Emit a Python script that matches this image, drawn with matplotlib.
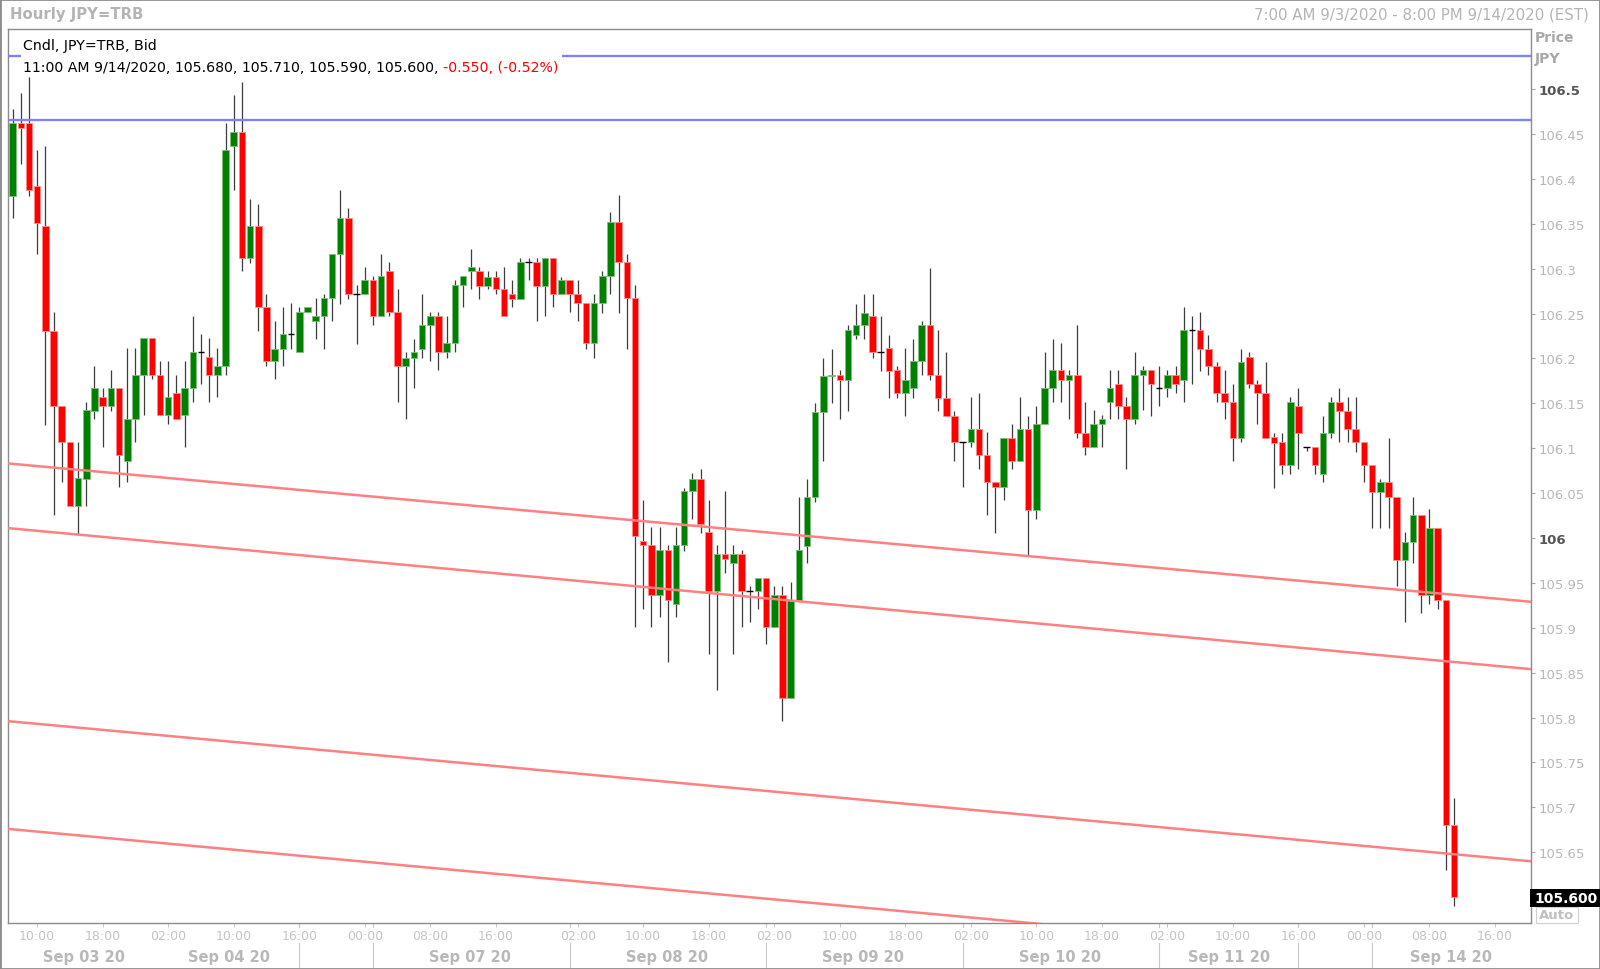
import matplotlib.pyplot as plt
from matplotlib.patches import Rectangle
from matplotlib.transforms import blended_transform_factory

# Hourly JPY=TRB candles, 7:00 AM 9/3/2020 .. 11:00 AM 9/14/2020
opens = [106.381, 106.462, 106.462, 106.392, 106.347, 106.231, 106.147, 106.107, 106.036, 106.066,
         106.141, 106.157, 106.147, 106.167, 106.086, 106.132, 106.182, 106.223, 106.182, 106.137,
         106.162, 106.137, 106.167, 106.207, 106.202, 106.182, 106.192, 106.437, 106.452, 106.312,
         106.347, 106.257, 106.197, 106.211, 106.227, 106.207, 106.252, 106.242, 106.247, 106.267,
         106.316, 106.356, 106.272, 106.272, 106.287, 106.247, 106.297, 106.252, 106.191, 106.201,
         106.211, 106.237, 106.247, 106.207, 106.217, 106.282, 106.297, 106.297, 106.281, 106.291,
         106.277, 106.272, 106.266, 106.307, 106.307, 106.281, 106.312, 106.272, 106.287, 106.272,
         106.262, 106.217, 106.262, 106.292, 106.352, 106.307, 106.267, 105.997, 105.992, 105.936,
         105.987, 105.927, 105.992, 106.052, 106.066, 106.007, 105.941, 105.982, 105.972, 105.982,
         105.941, 105.941, 105.956, 105.901, 105.936, 105.822, 105.931, 105.991, 106.046, 106.140,
         106.180, 106.182, 106.176, 106.226, 106.237, 106.247, 106.207, 106.212, 106.187, 106.162,
         106.167, 106.197, 106.237, 106.182, 106.156, 106.136, 106.107, 106.107, 106.121, 106.092,
         106.062, 106.057, 106.111, 106.086, 106.121, 106.031, 106.127, 106.167, 106.187, 106.176,
         106.182, 106.117, 106.101, 106.127, 106.152, 106.172, 106.147, 106.132, 106.182, 106.187,
         106.167, 106.167, 106.182, 106.176, 106.232, 106.232, 106.211, 106.191, 106.161, 106.152,
         106.111, 106.202, 106.172, 106.161, 106.112, 106.107, 106.081, 106.147, 106.101, 106.101,
         106.071, 106.117, 106.152, 106.141, 106.121, 106.107, 106.081, 106.051, 106.062, 106.046,
         105.976, 105.996, 106.026, 105.936, 106.011, 105.931, 105.680]
highs = [106.478, 106.496, 106.513, 106.432, 106.437, 106.252, 106.147, 106.107, 106.107, 106.152,
         106.192, 106.167, 106.187, 106.167, 106.212, 106.212, 106.223, 106.223, 106.197, 106.197,
         106.182, 106.197, 106.247, 106.227, 106.223, 106.212, 106.462, 106.493, 106.508, 106.377,
         106.372, 106.272, 106.242, 106.257, 106.262, 106.257, 106.257, 106.267, 106.272, 106.316,
         106.387, 106.367, 106.282, 106.302, 106.292, 106.316, 106.307, 106.277, 106.207, 106.222,
         106.272, 106.252, 106.252, 106.247, 106.287, 106.292, 106.322, 106.302, 106.297, 106.297,
         106.302, 106.287, 106.312, 106.312, 106.312, 106.312, 106.312, 106.291, 106.287, 106.287,
         106.262, 106.272, 106.297, 106.363, 106.382, 106.316, 106.282, 106.042, 106.012, 106.012,
         105.992, 106.012, 106.056, 106.072, 106.077, 106.042, 105.992, 106.052, 105.992, 105.987,
         105.947, 105.956, 105.956, 105.947, 105.947, 105.951, 106.046, 106.066, 106.150, 106.200,
         106.210, 106.187, 106.237, 106.261, 106.272, 106.272, 106.247, 106.226, 106.191, 106.212,
         106.222, 106.242, 106.301, 106.232, 106.207, 106.141, 106.107, 106.157, 106.162, 106.118,
         106.062, 106.111, 106.127, 106.157, 106.136, 106.147, 106.207, 106.222, 106.217, 106.187,
         106.237, 106.152, 106.142, 106.137, 106.187, 106.187, 106.157, 106.207, 106.192, 106.187,
         106.192, 106.187, 106.192, 106.257, 106.247, 106.252, 106.226, 106.196, 106.187, 106.172,
         106.211, 106.207, 106.176, 106.196, 106.117, 106.117, 106.157, 106.167, 106.101, 106.101,
         106.136, 106.157, 106.167, 106.157, 106.157, 106.107, 106.081, 106.066, 106.111, 106.046,
         106.007, 106.046, 106.026, 106.032, 106.011, 105.931, 105.710]
lows = [106.356, 106.416, 106.381, 106.316, 106.126, 106.026, 106.062, 106.036, 106.005, 106.036,
        106.132, 106.101, 106.141, 106.057, 106.062, 106.107, 106.137, 106.177, 106.137, 106.127,
        106.132, 106.101, 106.152, 106.172, 106.152, 106.157, 106.182, 106.387, 106.297, 106.306,
        106.231, 106.191, 106.177, 106.191, 106.211, 106.207, 106.252, 106.222, 106.211, 106.242,
        106.261, 106.266, 106.216, 106.272, 106.237, 106.247, 106.247, 106.152, 106.132, 106.167,
        106.201, 106.197, 106.187, 106.201, 106.207, 106.257, 106.277, 106.266, 106.277, 106.272,
        106.247, 106.257, 106.266, 106.287, 106.242, 106.247, 106.257, 106.272, 106.252, 106.242,
        106.211, 106.201, 106.251, 106.272, 106.251, 106.211, 105.901, 105.921, 105.901, 105.912,
        105.862, 105.912, 105.986, 106.021, 106.006, 105.871, 105.831, 105.961, 105.871, 105.901,
        105.906, 105.921, 105.882, 105.901, 105.796, 105.822, 105.931, 105.972, 106.040, 106.086,
        106.150, 106.133, 106.141, 106.222, 106.222, 106.201, 106.186, 106.156, 106.156, 106.136,
        106.156, 106.182, 106.176, 106.141, 106.136, 106.086, 106.057, 106.101, 106.077, 106.026,
        106.006, 106.042, 106.077, 106.086, 105.981, 106.021, 106.127, 106.151, 106.151, 106.132,
        106.111, 106.092, 106.101, 106.101, 106.132, 106.132, 106.077, 106.127, 106.142, 106.136,
        106.147, 106.157, 106.161, 106.152, 106.172, 106.186, 106.182, 106.152, 106.132, 106.086,
        106.107, 106.167, 106.127, 106.111, 106.056, 106.071, 106.071, 106.077, 106.097, 106.071,
        106.062, 106.111, 106.107, 106.107, 106.096, 106.062, 106.011, 106.011, 106.011, 105.946,
        105.906, 105.972, 105.916, 105.926, 105.921, 105.630, 105.590]
closes = [106.462, 106.457, 106.387, 106.351, 106.231, 106.147, 106.107, 106.036, 106.067, 106.142,
          106.167, 106.147, 106.167, 106.092, 106.132, 106.182, 106.223, 106.182, 106.137, 106.157,
          106.132, 106.167, 106.207, 106.207, 106.182, 106.192, 106.432, 106.452, 106.312, 106.347,
          106.257, 106.197, 106.211, 106.227, 106.227, 106.252, 106.257, 106.247, 106.267, 106.316,
          106.356, 106.272, 106.272, 106.287, 106.247, 106.292, 106.252, 106.191, 106.201, 106.207,
          106.237, 106.247, 106.207, 106.217, 106.282, 106.292, 106.302, 106.281, 106.291, 106.277,
          106.247, 106.266, 106.307, 106.307, 106.281, 106.312, 106.272, 106.287, 106.272, 106.262,
          106.217, 106.262, 106.292, 106.352, 106.307, 106.267, 106.002, 105.992, 105.936, 105.987,
          105.931, 105.992, 106.052, 106.066, 106.016, 105.941, 105.982, 105.977, 105.982, 105.941,
          105.941, 105.956, 105.901, 105.936, 105.822, 105.931, 105.987, 106.046, 106.140, 106.180,
          106.182, 106.176, 106.232, 106.237, 106.251, 106.207, 106.207, 106.186, 106.162, 106.176,
          106.197, 106.237, 106.182, 106.156, 106.136, 106.107, 106.107, 106.121, 106.092, 106.062,
          106.057, 106.111, 106.086, 106.121, 106.031, 106.127, 106.167, 106.187, 106.176, 106.182,
          106.117, 106.101, 106.127, 106.132, 106.167, 106.147, 106.132, 106.182, 106.187, 106.172,
          106.167, 106.182, 106.172, 106.232, 106.232, 106.211, 106.191, 106.161, 106.152, 106.111,
          106.196, 106.172, 106.161, 106.111, 106.106, 106.081, 106.152, 106.117, 106.101, 106.081,
          106.117, 106.152, 106.141, 106.121, 106.107, 106.081, 106.051, 106.062, 106.046, 105.976,
          105.996, 106.026, 105.936, 106.011, 105.931, 105.680, 105.600]

# axis labels
hour_ticks = [3, 11, 19, 27, 35, 43, 51, 59, 69, 77, 85, 93, 101, 109, 117, 125,
              133, 141, 149, 157, 165, 173, 181]
hour_labels = ["10:00", "18:00", "02:00", "10:00", "16:00", "00:00", "08:00", "16:00",
               "02:00", "10:00", "18:00", "02:00", "10:00", "18:00", "02:00", "10:00",
               "18:00", "02:00", "10:00", "16:00", "00:00", "08:00", "16:00"]
day_labels = ["Sep 03 20", "Sep 04 20", "Sep 07 20", "Sep 08 20", "Sep 09 20",
              "Sep 10 20", "Sep 11 20", "Sep 14 20"]
day_centers = [8.7, 26.4, 55.8, 79.9, 103.8, 127.9, 148.5, 175.6]
day_breaks = [35, 44, 68, 92, 116, 140, 157, 166]
price_ticks = [105.6, 105.65, 105.7, 105.75, 105.8, 105.85, 105.9, 105.95, 106.0,
               106.05, 106.1, 106.15, 106.2, 106.25, 106.3, 106.35, 106.4, 106.45, 106.5]

# drawn studies: parallel down-trend lines and horizontal levels
trend_x = [-0.525, 185.35]
trend_lines = [(106.083, 105.929), (106.011, 105.854), (105.796, 105.640), (105.676, 105.520)]
blue_levels = [106.5366, 106.4655]
last_price = 105.600

W, H = 1600, 970


def fx(px):
    return px / W


def fy(py):
    return 1 - py / H


fig = plt.figure(figsize=(16, 9.7), dpi=100)
ax = fig.add_axes([fx(8.3), fy(923.5), fx(1530.6 - 8.3), (923.5 - 29.5) / H])
ax.set_xlim(-0.525, 185.35)
ax.set_ylim(105.5718, 106.5674)

# --------------------------
# Candles
# --------------------------
for i, (o, h, l, c) in enumerate(zip(opens, highs, lows, closes)):
    ax.vlines(i, l, h, color="#3c3c3c", lw=0.9, zorder=2)
    if abs(c - o) < 0.0015:
        ax.hlines(o, i - 0.4, i + 0.4, color="black", lw=1.0, zorder=3)
        continue
    if c > o:
        face, edge = "#008000", "#7fbf7f"
    else:
        face, edge = "#ff0000", "#ff8c8c"
    ax.add_patch(Rectangle((i - 0.4, min(o, c)), 0.8, abs(c - o),
                           facecolor=face, edgecolor=edge, lw=0.6, zorder=3))

for a, b in trend_lines:
    ax.plot(trend_x, [a, b], color="#ff8080", lw=1.8, zorder=4)
for lvl in blue_levels:
    ax.axhline(lvl, color="#8080ff", lw=1.7, zorder=4)

# --------------------------
# Axes styling
# --------------------------
for sp in ax.spines.values():
    sp.set_color("#8c8c8c")
    sp.set_linewidth(1.0)

ax.yaxis.tick_right()
ax.set_yticks(price_ticks)
# 105.6 sits behind the last-price marker, so only its tick mark shows
ax.set_yticklabels(["" if v == last_price else f"{v:.2f}".rstrip("0").rstrip(".")
                    for v in price_ticks])
ax.tick_params(axis="y", length=3, pad=2.5, color="#a8a8a8",
               labelcolor="#b8b8b8", labelsize=9.5)
for lab in ax.get_yticklabels():
    if lab.get_text() in ("106.5", "106"):
        lab.set_fontweight("bold")
        lab.set_color("#555555")

ax.set_xticks(hour_ticks)
ax.set_xticklabels(hour_labels)
ax.tick_params(axis="x", length=3, pad=2, color="#c8c8c8",
               labelcolor="#c4c4c4", labelsize=9)

trans = blended_transform_factory(ax.transData, ax.transAxes)
for x in day_breaks:
    ax.plot([x, x], [0, -0.005], transform=trans, color="#c8c8c8", lw=0.8, clip_on=False)
    ax.plot([x, x], [-0.023, -0.050], transform=trans, color="#c8c8c8", lw=0.8, clip_on=False)
for x, t in zip(day_centers, day_labels):
    ax.text(x, -0.0375, t, transform=trans, ha="center", va="center",
            fontsize=10.5, fontweight="bold", color="#b8b8b8")

# --------------------------
# Header and legend texts
# --------------------------
fig.text(fx(10), fy(15), "Hourly JPY=TRB", fontsize=10.7, fontweight="bold",
         color="#b4b4b4", va="center")
fig.text(fx(1589), fy(15), "7:00 AM 9/3/2020 - 8:00 PM 9/14/2020 (EST)", fontsize=10.8,
         color="#b4b4b4", va="center", ha="right")
fig.text(fx(1535), fy(38), "Price", fontsize=10, fontweight="bold", color="#a8a8a8", va="center")
fig.text(fx(1535), fy(59), "JPY", fontsize=10, fontweight="bold", color="#a8a8a8", va="center")

fig.add_artist(Rectangle((fx(21), fy(78)), fx(541), 42 / H, transform=fig.transFigure,
                         facecolor="white", edgecolor="none", zorder=1))
fig.text(fx(23), fy(46), "Cndl, JPY=TRB, Bid", fontsize=10.2, color="black", va="center")
t1 = fig.text(fx(23), fy(68), "11:00 AM 9/14/2020, 105.680, 105.710, 105.590, 105.600, ",
              fontsize=10.2, color="black", va="center")
renderer = fig.canvas.get_renderer()
bb = t1.get_window_extent(renderer=renderer)
fig.text(bb.x1 / W, fy(68), "-0.550, (-0.52%)", fontsize=10.2, color="#ff0000", va="center")

# last price marker and Auto box
fig.add_artist(Rectangle((fx(1530), fy(908)), fx(70), 18 / H, transform=fig.transFigure,
                         facecolor="black", edgecolor="none", zorder=2))
fig.text(fx(1566), fy(899), f"{last_price:.3f}", fontsize=10, fontweight="bold",
         color="white", ha="center", va="center")
fig.add_artist(Rectangle((fx(1536), fy(924)), fx(42), 16 / H, transform=fig.transFigure,
                         facecolor="white", edgecolor="#d0d0d0", lw=0.8, zorder=2))
fig.text(fx(1557), fy(916), "Auto", fontsize=9.5, fontweight="bold",
         color="#c0c0c0", ha="center", va="center")

fig.add_artist(Rectangle((0, 0), 1, 1, transform=fig.transFigure, fill=False,
                         edgecolor="#8c8c8c", lw=2))

fig.savefig("out.png", dpi=100)
